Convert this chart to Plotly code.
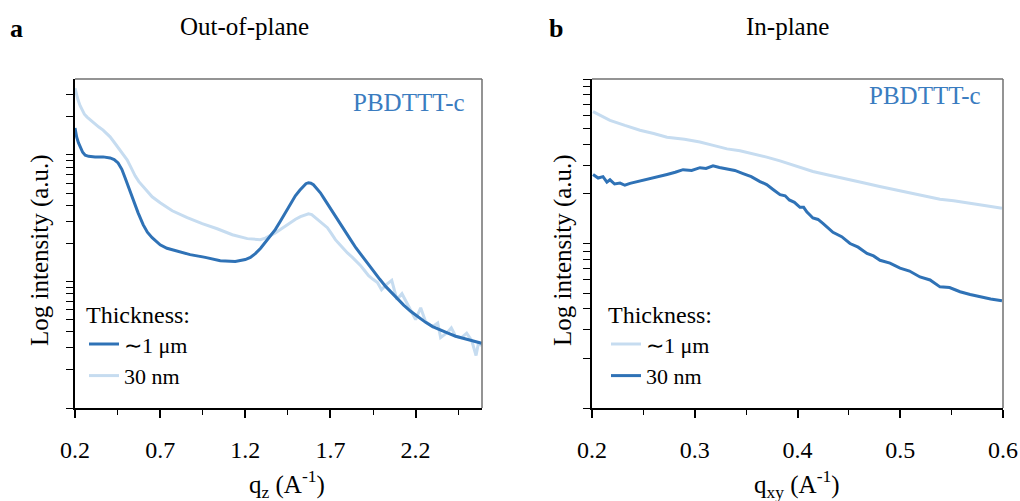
import plotly.graph_objects as go

# ---------------- data ----------------
# Out-of-plane, ~1 um film (dark)
oop_q_thick = [0.2, 0.205, 0.21, 0.22, 0.23, 0.245, 0.26, 0.28, 0.318, 0.365, 0.406, 0.43, 0.453,
               0.475, 0.494, 0.515, 0.541, 0.57, 0.6, 0.625, 0.653, 0.68, 0.7, 0.74,
               0.788, 0.876, 0.965, 1.053, 1.141, 1.2, 1.23, 1.259, 1.29, 1.318, 1.346, 1.376,
               1.405, 1.435, 1.465, 1.494, 1.52, 1.541, 1.556, 1.571, 1.585,
               1.6, 1.62, 1.641, 1.66, 1.682, 1.715, 1.747, 1.78, 1.818, 1.85, 1.888, 1.92, 1.953,
               1.99, 2.024, 2.06, 2.094, 2.13, 2.171, 2.215, 2.259, 2.30, 2.347,
               2.39, 2.435, 2.48, 2.524, 2.56, 2.588]
oop_I_thick = [16.3, 14.8, 13.8, 12.5, 11.5, 10.5, 9.95, 9.75, 9.65, 9.65, 9.47, 9.2, 8.64,
               7.7, 6.59, 5.5, 4.43, 3.5, 2.81, 2.45, 2.22, 2.05, 1.95, 1.83,
               1.75, 1.63, 1.55, 1.46, 1.44, 1.49, 1.55, 1.66, 1.83, 2.03, 2.28, 2.57,
               2.98, 3.49, 4.10, 4.75, 5.25, 5.70, 5.92, 6.03, 5.98,
               5.81, 5.45, 5.02, 4.58, 4.11, 3.50, 2.97, 2.52, 2.14, 1.84, 1.57, 1.37, 1.20,
               1.04, 0.914, 0.81, 0.722, 0.65, 0.581, 0.525, 0.475, 0.44, 0.411,
               0.39, 0.369, 0.355, 0.343, 0.33, 0.325]

# Out-of-plane, 30 nm film (light)
oop_q_thin = [0.2, 0.208, 0.218, 0.23, 0.241, 0.255, 0.271, 0.295, 0.318, 0.34, 0.365, 0.385, 0.406,
              0.43, 0.453, 0.48, 0.506, 0.53, 0.553, 0.575, 0.6, 0.625, 0.653, 0.7,
              0.771, 0.859, 0.947, 1.035, 1.124, 1.212, 1.25, 1.288, 1.318, 1.347, 1.376, 1.406,
              1.435, 1.465, 1.495, 1.524, 1.55, 1.571,
              1.59, 1.612, 1.645, 1.682, 1.705, 1.729, 1.752, 1.776, 1.80, 1.829, 1.852, 1.876,
              1.90, 1.924, 1.95, 1.976, 2.0, 2.03, 2.06, 2.09, 2.12,
              2.171, 2.20, 2.23, 2.259, 2.30, 2.33, 2.347, 2.39, 2.41, 2.435, 2.47, 2.50, 2.53,
              2.555, 2.57, 2.588]
oop_I_thin = [33.7, 30.0, 27.1, 24.5, 22.6, 21.0, 19.9, 18.6, 17.5, 16.6, 15.7, 14.9, 13.9,
              12.6, 11.4, 10.2, 9.14, 7.9, 6.84, 6.15, 5.60, 5.10, 4.67, 4.19,
              3.62, 3.19, 2.86, 2.61, 2.34, 2.18, 2.15, 2.14, 2.20, 2.30, 2.42, 2.57,
              2.74, 2.92, 3.10, 3.25, 3.36, 3.43,
              3.38, 3.19, 2.93, 2.66, 2.40, 2.14, 1.98, 1.82, 1.68, 1.55, 1.45, 1.34,
              1.22, 1.11, 1.04, 0.98, 0.86, 0.95, 1.02, 0.72, 0.80,
              0.59, 0.50, 0.62, 0.48, 0.44, 0.47, 0.36, 0.40, 0.43, 0.37, 0.36, 0.39, 0.34,
              0.26, 0.33, 0.31]

# In-plane, ~1 um film (light)
ip_q_thick = [0.201, 0.209, 0.2175, 0.232, 0.2467, 0.26, 0.273, 0.29, 0.305, 0.318, 0.3314, 0.344,
              0.3567, 0.37, 0.383, 0.40, 0.415, 0.431, 0.448, 0.464, 0.480, 0.496,
              0.5124, 0.526, 0.5387, 0.552, 0.565, 0.582, 0.599]
ip_I_thick = [6.34, 5.95, 5.61, 5.22, 4.88, 4.66, 4.43, 4.30, 4.14, 3.95, 3.76, 3.66,
              3.51, 3.35, 3.18, 2.95, 2.74, 2.60, 2.45, 2.34, 2.22, 2.12,
              2.02, 1.93, 1.86, 1.82, 1.76, 1.70, 1.64]

# In-plane, 30 nm film (dark)
ip_q_thin = [0.201, 0.206, 0.2107, 0.2145, 0.2175, 0.222, 0.2273, 0.232, 0.237, 0.245, 0.2535,
             0.263, 0.273, 0.281, 0.2886, 0.297, 0.3051, 0.311, 0.3178, 0.324, 0.3314, 0.339,
             0.347, 0.355, 0.3635, 0.37, 0.3762, 0.383, 0.388, 0.392, 0.397, 0.4024, 0.406, 0.409,
             0.415, 0.42, 0.425, 0.4345, 0.443, 0.4511, 0.459,
             0.4676, 0.474, 0.4803, 0.49, 0.4998, 0.509, 0.5192, 0.529, 0.5387, 0.548, 0.5582,
             0.568, 0.5776, 0.588, 0.599]
ip_I_thin = [2.63, 2.50, 2.55, 2.36, 2.44, 2.30, 2.33, 2.26, 2.32, 2.38, 2.45,
             2.52, 2.63, 2.71, 2.81, 2.78, 2.89, 2.86, 2.97, 2.90, 2.85, 2.78,
             2.66, 2.55, 2.38, 2.28, 2.13, 1.98, 1.95, 1.84, 1.78, 1.66, 1.66, 1.56,
             1.43, 1.40, 1.32, 1.17, 1.10, 1.0, 0.95,
             0.871, 0.84, 0.791, 0.76, 0.708, 0.68, 0.626, 0.60, 0.545, 0.54, 0.509,
             0.49, 0.475, 0.46, 0.449]

DARK = "#2f72b6"
LIGHT = "#c6dcf0"
TXT = "#3a7cc0"
FONT = "Liberation Serif"

fig = go.Figure()
fig.add_trace(go.Scatter(x=oop_q_thin, y=oop_I_thin, mode="lines", name="30 nm",
                         line=dict(color=LIGHT, width=3), xaxis="x", yaxis="y",
                         legend="legend", legendrank=2))
fig.add_trace(go.Scatter(x=oop_q_thick, y=oop_I_thick, mode="lines", name="∼1 μm",
                         line=dict(color=DARK, width=3), xaxis="x", yaxis="y",
                         legend="legend", legendrank=1))
fig.add_trace(go.Scatter(x=ip_q_thick, y=ip_I_thick, mode="lines", name="∼1 μm",
                         line=dict(color=LIGHT, width=3), xaxis="x2", yaxis="y2",
                         legend="legend2", legendrank=1))
fig.add_trace(go.Scatter(x=ip_q_thin, y=ip_I_thin, mode="lines", name="30 nm",
                         line=dict(color=DARK, width=3), xaxis="x2", yaxis="y2",
                         legend="legend2", legendrank=2))

W, H = 1020, 501
def px(x):
    return x / W
def py(y):
    return 1 - y / H

left_ticks = [0.1, 0.2, 0.3, 0.4, 0.5, 0.6, 0.7, 0.8, 0.9, 1, 2, 3, 4, 5, 6, 7, 8, 9, 10, 20, 30]
right_ticks = [0.1, 0.2, 0.3, 0.4, 0.5, 0.6, 0.7, 0.8, 0.9, 1, 2, 3, 4, 5, 6, 7, 8, 9, 10]

tickfont = dict(family=FONT, size=24, color="black")
xcommon = dict(showgrid=False, zeroline=False, showline=True, linecolor="black", linewidth=1.5,
               ticks="outside", ticklen=8, tickwidth=1.5, tickcolor="black", tickfont=tickfont,
               ticklabelstandoff=11, ticklabeloverflow="allow")
ycommon = dict(type="log", showgrid=False, zeroline=False, showline=True, linecolor="black",
               linewidth=1.5, ticks="outside", ticklen=7, tickwidth=1.2, tickcolor="black",
               showticklabels=False)

legtitle = dict(family=FONT, size=24, color="black")
legfont = dict(family=FONT, size=22, color="black")
fig.update_layout(
    width=W, height=H, margin=dict(l=0, r=0, t=0, b=0, autoexpand=False),
    plot_bgcolor="white", paper_bgcolor="white",
    font=dict(family=FONT, size=24, color="black"),
    xaxis=dict(domain=[px(75), px(482)], range=[0.2, 2.59], tick0=0.2, dtick=0.5,
               tickformat=".1f", anchor="y",
               minor=dict(tick0=0.2, dtick=0.25, ticks="outside", ticklen=5, tickcolor="black",
                          tickwidth=1.2), **xcommon),
    yaxis=dict(domain=[py(408), py(79)], range=[-1.0, 1.6], tickvals=left_ticks, anchor="x",
               **ycommon),
    xaxis2=dict(domain=[px(592), px(1003)], range=[0.2, 0.6], tick0=0.2, dtick=0.1,
                tickformat=".1f", anchor="y2",
                minor=dict(tick0=0.2, dtick=0.05, ticks="outside", ticklen=5, tickcolor="black",
                           tickwidth=1.2), **xcommon),
    yaxis2=dict(domain=[py(408), py(79)], range=[-1.0, 1.0], tickvals=right_ticks, anchor="x2",
                **ycommon),
    legend=dict(x=px(84), y=py(292), xanchor="left", yanchor="top", bgcolor="rgba(0,0,0,0)",
                title=dict(text="Thickness:", font=legtitle),
                font=legfont, itemwidth=30, tracegroupgap=0),
    legend2=dict(x=px(606), y=py(292), xanchor="left", yanchor="top", bgcolor="rgba(0,0,0,0)",
                 title=dict(text="Thickness:", font=legtitle),
                 font=legfont, itemwidth=30, tracegroupgap=0),
    showlegend=True,
)

for xr, yr in (("x domain", "y domain"), ("x2 domain", "y2 domain")):
    fig.add_shape(type="line", xref=xr, yref=yr, x0=0, x1=1, y0=1, y1=1,
                  line=dict(color="#707070", width=1.5))
    fig.add_shape(type="line", xref=xr, yref=yr, x0=1, x1=1, y0=0, y1=1,
                  line=dict(color="#707070", width=1.5))

ann = [
    dict(text="<b>a</b>", x=px(8), y=py(29), xanchor="left", size=26, color="black"),
    dict(text="<b>b</b>", x=px(547), y=py(29), xanchor="left", size=26, color="black"),
    dict(text="Out-of-plane", x=px(244), y=py(27), xanchor="center", size=25, color="black"),
    dict(text="In-plane", x=px(787), y=py(27), xanchor="center", size=25, color="black"),
    dict(text="PBDTTT-c", x=px(467), y=py(102), xanchor="right", size=25, color=TXT),
    dict(text="PBDTTT-c", x=px(983), y=py(95), xanchor="right", size=25, color=TXT),
    dict(text="q<sub>z</sub> (A<sup>-1</sup>)", x=px(287), y=py(484), xanchor="center",
         size=25, color="black"),
    dict(text="q<sub>xy</sub> (A<sup>-1</sup>)", x=px(797), y=py(484), xanchor="center",
         size=25, color="black"),
]
for a in ann:
    fig.add_annotation(text=a["text"], x=a["x"], y=a["y"], xref="paper", yref="paper",
                       xanchor=a["xanchor"], yanchor="middle", showarrow=False,
                       font=dict(family=FONT, size=a["size"], color=a["color"]))

for xc in (40, 563):
    fig.add_annotation(text="Log intensity (a.u.)", x=px(xc), y=py(250), xref="paper",
                       yref="paper", textangle=-90, showarrow=False, xanchor="center",
                       yanchor="middle", font=dict(family=FONT, size=25, color="black"))

fig.write_html("out.html")
